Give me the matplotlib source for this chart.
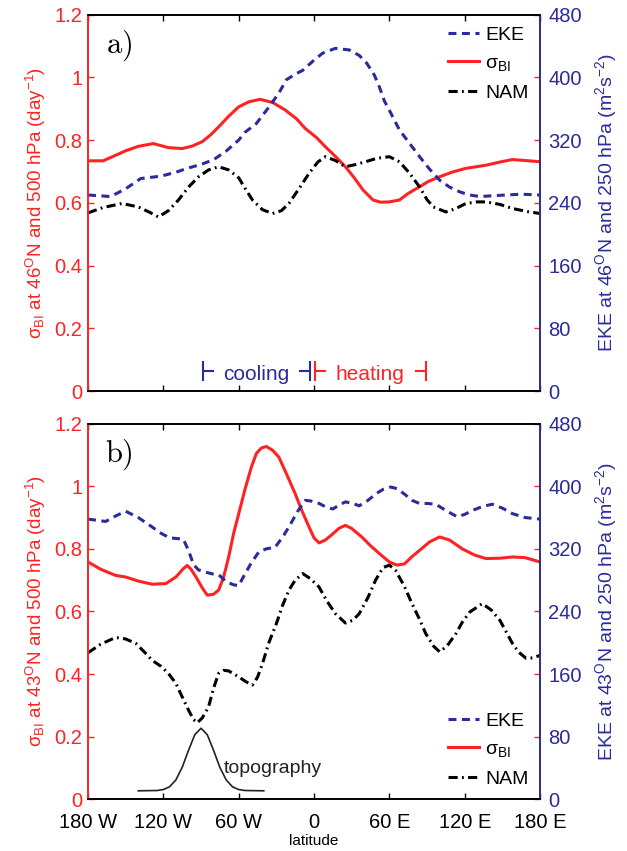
import matplotlib.pyplot as plt

plt.rcParams['font.family'] = ['Liberation Sans', 'DejaVu Sans']
plt.rcParams['mathtext.fontset'] = 'custom'
plt.rcParams['mathtext.rm'] = 'Liberation Sans'
plt.rcParams['mathtext.it'] = 'Liberation Sans:italic'
plt.rcParams['mathtext.default'] = 'regular'

RED = '#ff2222'
BLUE = '#2b2b9a'

# ---- panel a: 46N ----
sig_a_lon = [-180, -168, -160, -150, -140, -128, -116, -105, -97, -89, -82, -76, -68, -60, -52, -43,
             -33, -23, -14, -7, 2, 9, 17, 25, 32, 39, 47, 53, 60, 68, 75, 84, 91, 100, 110, 121, 137,
             148, 158, 168, 180]
sig_a = [0.734, 0.734, 0.748, 0.766, 0.780, 0.789, 0.776, 0.773, 0.781, 0.795, 0.818, 0.842, 0.876,
         0.906, 0.922, 0.930, 0.920, 0.896, 0.868, 0.837, 0.808, 0.779, 0.748, 0.715, 0.680, 0.641,
         0.609, 0.602, 0.603, 0.609, 0.630, 0.651, 0.668, 0.683, 0.698, 0.710, 0.720, 0.730, 0.738,
         0.735, 0.731]

eke_a_lon = [-180, -162, -150, -138, -122, -110, -101, -90, -80, -70, -60, -55, -46, -36, -28, -22,
             -15, -9, 0, 7, 17, 28, 36, 42, 48, 52, 56, 60, 68, 76, 84, 92, 100, 108, 116, 124, 132,
             142, 153, 165, 180]
eke_a = [250, 248, 258, 271, 274, 279, 284, 289, 295, 306, 320, 330, 341, 362, 380, 397, 404, 409,
         422, 431, 437, 435, 428, 418, 403, 388, 370, 358, 333, 316, 299, 283, 269, 260, 254, 250,
         248, 249, 250, 251, 250]

nam_a_lon = [-180, -168, -153, -140, -131, -124, -116, -108, -100, -92, -84, -76, -68, -60, -54, -49,
             -41, -33, -26, -20, -12, -4, 3, 9, 17, 25, 33, 41, 50, 60, 68, 76, 84, 90, 95, 105, 113,
             121, 130, 137, 148, 158, 170, 180]
nam_a = [0.568, 0.585, 0.598, 0.587, 0.570, 0.555, 0.575, 0.609, 0.650, 0.683, 0.705, 0.715, 0.705,
         0.680, 0.640, 0.609, 0.578, 0.566, 0.575, 0.598, 0.645, 0.694, 0.730, 0.747, 0.735, 0.715,
         0.722, 0.731, 0.742, 0.747, 0.731, 0.695, 0.651, 0.610, 0.587, 0.571, 0.582, 0.598, 0.603,
         0.603, 0.595, 0.582, 0.572, 0.566]

# ---- panel b: 43N ----
sig_b_lon = [-180, -170, -158, -150, -140, -129, -118, -110, -104, -101, -98, -94, -89, -85, -80, -76,
             -72, -68, -64, -60, -55, -50, -46, -42, -38, -33, -28, -22, -15, -10, -4, 0, 4, 9, 15,
             20, 25, 30, 38, 45, 52, 60, 66, 72, 78, 84, 92, 100, 108, 118, 128, 137, 148, 158, 168,
             180]
sig_b = [0.758, 0.735, 0.715, 0.710, 0.697, 0.687, 0.689, 0.710, 0.737, 0.747, 0.735, 0.710, 0.675,
         0.652, 0.655, 0.668, 0.710, 0.774, 0.850, 0.912, 0.990, 1.060, 1.104, 1.122, 1.127, 1.115,
         1.093, 1.040, 0.976, 0.925, 0.870, 0.835, 0.819, 0.828, 0.848, 0.866, 0.875, 0.865, 0.838,
         0.810, 0.785, 0.758, 0.748, 0.752, 0.775, 0.795, 0.822, 0.838, 0.828, 0.800, 0.780, 0.769,
         0.770, 0.774, 0.772, 0.758]

eke_b_lon = [-180, -166, -158, -150, -140, -129, -122, -115, -108, -104, -100, -96, -92, -86, -81, -76,
             -70, -64, -60, -56, -50, -44, -38, -31, -25, -20, -13, -7, -2, 4, 10, 15, 20, 25, 31, 36,
             43, 49, 55, 61, 66, 72, 78, 84, 90, 97, 105, 114, 120, 126, 134, 142, 150, 158, 168, 180]
eke_b = [358, 355, 362, 368, 360, 348, 340, 334, 333, 332, 318, 300, 293, 290, 288, 287, 278, 274,
         273, 285, 302, 316, 320, 322, 335, 348, 368, 382, 381, 378, 373, 371, 376, 380, 378, 375,
         382, 390, 396, 399, 397, 390, 382, 378, 378, 377, 369, 361, 364, 369, 374, 377, 372, 365,
         360, 358]

nam_b_lon = [-180, -170, -158, -150, -142, -135, -129, -122, -116, -110, -105, -100, -96, -93, -89,
             -84, -80, -76, -72, -68, -60, -54, -49, -45, -41, -36, -30, -25, -20, -15, -9, -3, 4, 10,
             17, 25, 31, 36, 43, 49, 55, 60, 65, 72, 78, 84, 89, 95, 100, 106, 113, 118, 124, 134,
             141, 148, 153, 158, 163, 169, 175, 180]
nam_b = [0.468, 0.495, 0.517, 0.512, 0.498, 0.470, 0.444, 0.425, 0.402, 0.370, 0.327, 0.285, 0.255,
         0.244, 0.260, 0.295, 0.355, 0.402, 0.412, 0.410, 0.391, 0.375, 0.365, 0.390, 0.434, 0.500,
         0.561, 0.620, 0.668, 0.700, 0.721, 0.705, 0.678, 0.635, 0.593, 0.563, 0.572, 0.593, 0.645,
         0.700, 0.740, 0.748, 0.731, 0.680, 0.625, 0.575, 0.529, 0.490, 0.471, 0.490, 0.529, 0.565,
         0.598, 0.625, 0.605, 0.572, 0.535, 0.498, 0.470, 0.450, 0.452, 0.460]

topo_lon = [-140, -125, -120, -115, -110, -105, -100, -95, -90, -85, -80, -75, -70, -65, -60, -55, -40]
topo = [0.027, 0.028, 0.031, 0.040, 0.062, 0.102, 0.156, 0.206, 0.227, 0.206, 0.156, 0.102, 0.062,
        0.040, 0.031, 0.028, 0.027]

lon_ticks = [-180, -120, -60, 0, 60, 120, 180]
lon_labels = ['180 W', '120 W', '60 W', '0', '60 E', '120 E', '180 E']
sig_ticks = [0, 0.2, 0.4, 0.6, 0.8, 1.0, 1.2]
sig_labels = ['0', '0.2', '0.4', '0.6', '0.8', '1', '1.2']
eke_ticks = [0, 80, 160, 240, 320, 400, 480]

cool_span = (-88.5, -3.5)
heat_span = (0.5, 89)


def draw_panel(ax, lat, sig_lon, sig, eke_lon, eke, nam_lon, nam, tag, legend_loc):
    ax2 = ax.twinx()
    l_sig, = ax.plot(sig_lon, sig, color=RED, lw=2.2)
    l_nam, = ax.plot(nam_lon, nam, color='k', lw=2.2, dashes=(3.0, 1.4, 0.6, 1.4))
    l_eke, = ax2.plot(eke_lon, eke, color=BLUE, lw=2.2, dashes=(2.6, 1.8))

    ax.set_xlim(-180, 180)
    ax.set_ylim(0, 1.2)
    ax2.set_ylim(0, 480)
    ax.set_xticks(lon_ticks)
    ax.set_yticks(sig_ticks)
    ax.set_yticklabels(sig_labels)
    ax2.set_yticks(eke_ticks)

    ax.tick_params(axis='y', direction='in', right=True, length=4, width=1, colors=RED,
                   labelsize=14.5, pad=4)
    ax.tick_params(axis='x', direction='in', top=True, length=4, width=1, labelsize=14.5, pad=10)
    ax2.tick_params(axis='y', direction='in', length=0, labelcolor=BLUE, labelsize=14.5, pad=6)

    for a in (ax, ax2):
        for s in a.spines.values():
            s.set_linewidth(1.2)
        a.spines['left'].set_color(RED)
        a.spines['right'].set_color(BLUE)

    ax.set_ylabel(r'$\sigma_{BI}$ at %d$^{O}$N and 500 hPa (day$^{-1}$)' % lat, color=RED,
                  fontsize=13.5, labelpad=5)
    ax2.set_ylabel(r'EKE at %d$^{O}$N and 250 hPa (m$^{2}$s$^{-2}$)' % lat, color=BLUE,
                   fontsize=14, rotation=90, labelpad=8)

    ax.text(0.068, 0.918, r'$\mathrm{%s)}$' % tag, transform=ax.transAxes, fontsize=22,
            math_fontfamily='cm', va='center', ha='center')

    ax2.legend([l_eke, l_sig, l_nam], ['EKE', r'$\sigma_{BI}$', 'NAM'], loc=legend_loc,
               frameon=False, fontsize=14, handlelength=1.6, handletextpad=0.3,
               labelspacing=0.55, borderaxespad=0.2)
    return ax2


fig = plt.figure(figsize=(6.27, 8.51), dpi=100)
ax_a = fig.add_axes([0.1404, 0.5405, 0.7209, 0.4423])
ax_b = fig.add_axes([0.1404, 0.0608, 0.7209, 0.4414])

draw_panel(ax_a, 46, sig_a_lon, sig_a, eke_a_lon, eke_a, nam_a_lon, nam_a, 'a', 'upper right')
ax_a.set_xticklabels([])

# cooling / heating brackets along the bottom of panel a
for (x0, x1), col, word in [(cool_span, BLUE, 'cooling'), (heat_span, RED, 'heating')]:
    ax_a.plot([x0, x0], [0.035, 0.092], color=col, lw=1.5)
    ax_a.plot([x0, x0 + 8], [0.063, 0.063], color=col, lw=1.5)
    ax_a.plot([x1, x1], [0.035, 0.092], color=col, lw=1.5)
    ax_a.plot([x1 - 8, x1], [0.063, 0.063], color=col, lw=1.5)
    ax_a.text((x0 + x1) / 2, 0.035, word, color=col, fontsize=15, ha='center', va='baseline')

draw_panel(ax_b, 43, sig_b_lon, sig_b, eke_b_lon, eke_b, nam_b_lon, nam_b, 'b', 'lower right')
ax_b.set_xticklabels(lon_labels)
ax_b.set_xlabel('latitude', fontsize=11, labelpad=1)
ax_b.plot(topo_lon, topo, color='#222222', lw=1.2)
ax_b.text(-72, 0.083, 'topography', fontsize=14, ha='left', va='baseline', color='#222222')

fig.savefig('out.png', dpi=100)
